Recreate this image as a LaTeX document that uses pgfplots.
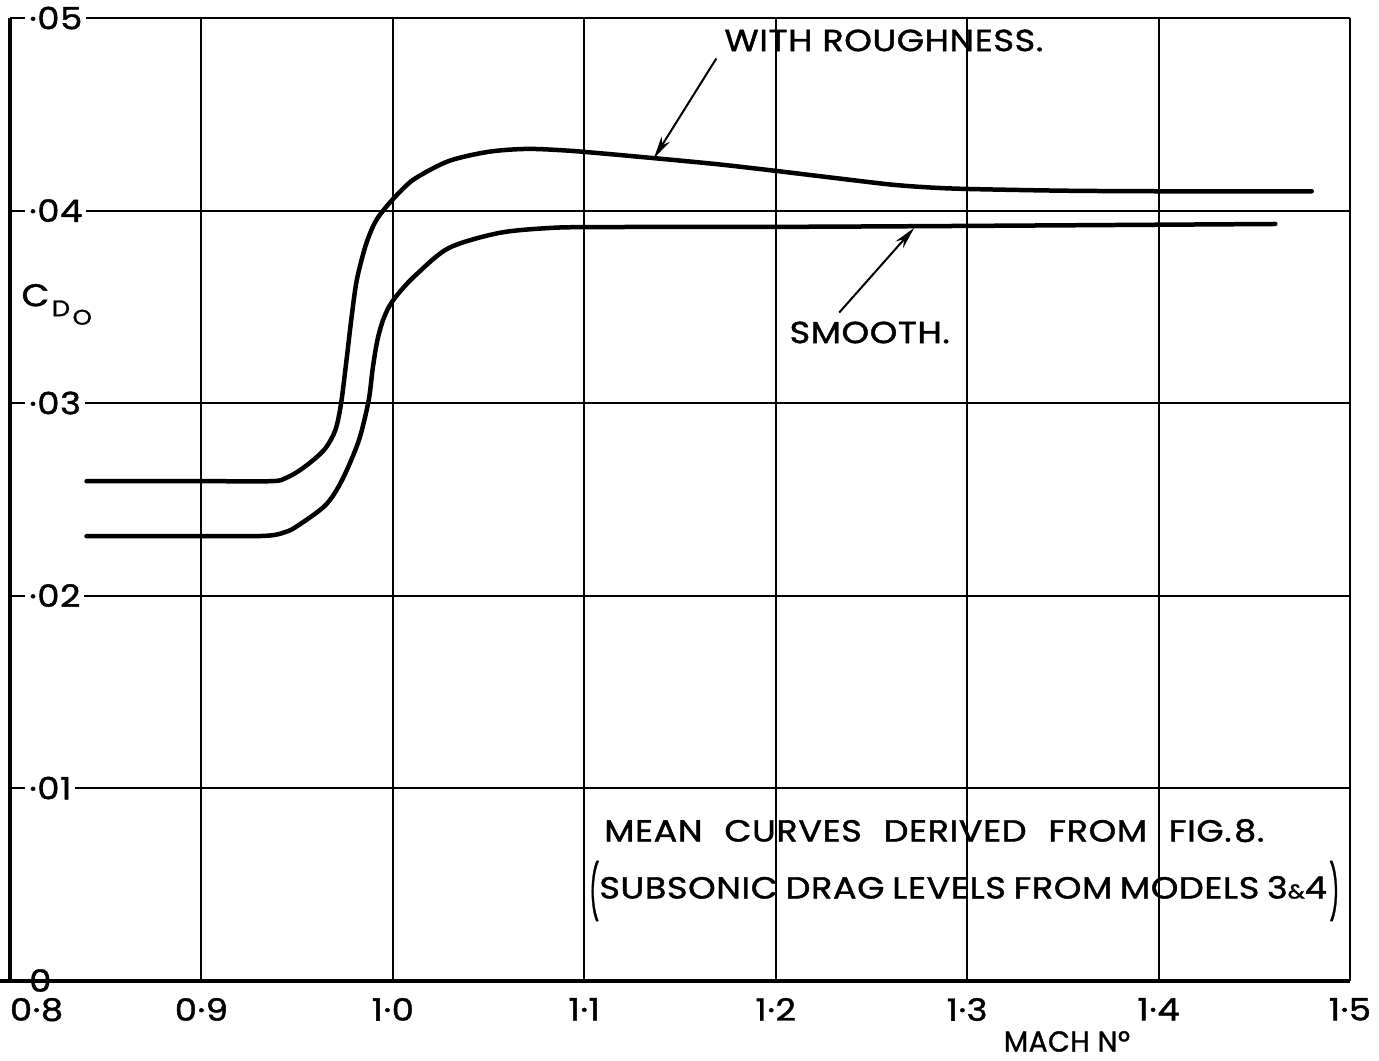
\documentclass[border=0pt]{standalone}
\usepackage{fontspec}
\setmainfont{Poppins}
\usepackage{graphicx}
\usepackage{pgfplots}
\pgfplotsset{compat=1.18}
\usetikzlibrary{arrows.meta}
\newfontfamily\lett[FakeStretch=1.15, FakeBold=1.4, LetterSpace=2]{Poppins}
\newfontfamily\lettT[FakeStretch=1.15, FakeBold=1.4, LetterSpace=2]{Poppins}

\pgfplotstableread{
x y
0.8400 0.02594
0.9000 0.02594
0.9366 0.02594
0.9440 0.02610
0.9507 0.02646
0.9580 0.02700
0.9648 0.02765
0.9700 0.02860
0.9730 0.03000
0.9760 0.03240
0.9785 0.03450
0.9812 0.03640
0.9857 0.03815
0.9905 0.03935
0.9962 0.04015
1.0040 0.04100
1.0119 0.04168
1.0292 0.04257
1.0500 0.04305
1.0700 0.04320
1.0900 0.04312
1.1076 0.04298
1.1364 0.04272
1.1700 0.04240
1.2008 0.04205
1.2300 0.04170
1.2600 0.04135
1.2800 0.04120
1.3000 0.04112
1.3500 0.04103
1.4000 0.04100
1.4800 0.04100
}\rough

\pgfplotstableread{
x y
0.8400 0.02308
0.9000 0.02308
0.9334 0.02310
0.9440 0.02330
0.9507 0.02365
0.9648 0.02469
0.9732 0.02594
0.9821 0.02801
0.9873 0.03010
0.9895 0.03180
0.9918 0.03320
0.9945 0.03420
0.9980 0.03500
1.0030 0.03570
1.0119 0.03664
1.0292 0.03805
1.0553 0.03883
1.0815 0.03909
1.1076 0.03914
1.2000 0.03915
1.3000 0.03920
1.4610 0.03930
}\smooth

\begin{document}
\begin{tikzpicture}
\useasboundingbox (-4pt,-31.8pt) rectangle (547.6pt,392.2pt);
\begin{axis}[
  at={(0,0)}, anchor=south west,
  scale only axis, width=536pt, height=385pt,
  xmin=0.8, xmax=1.5, ymin=0, ymax=0.05,
  xtick={0.8,0.9,1.0,1.1,1.2,1.3,1.4,1.5},
  xticklabels={\makebox[0pt][l]{0·8},0·9,1·0,1·1,1·2,1·3,1·4,1·5},
  ytick={0.01,0.02,0.03,0.04,0.05},
  yticklabels={·01,·02,·03,·04,·05},
  extra y ticks={0},
  extra y tick labels={\raisebox{-2pt}{0}},
  extra y tick style={grid=none},
  scaled y ticks=false,
  grid=major,
  major grid style={line width=0.8pt, black},
  major tick length=0pt,
  axis line style={draw=none},
  xticklabel style={font=\lettT\fontsize{12.3}{12.3}\selectfont, yshift=-3.5pt},
  yticklabel style={anchor=west, xshift=6pt, fill=white, inner sep=1.5pt, font=\lettT\fontsize{12.3}{12.3}\selectfont},
  clip=false,
]
\draw[line width=1.6pt] (rel axis cs:0,0) -- ++(5pt,0);
\draw[line width=1.6pt] (rel axis cs:0,0) ++(19.5pt,0) -- (rel axis cs:1,0);
\draw[line width=1.6pt] (rel axis cs:0,0) -- (rel axis cs:0,1);

\addplot[black, line width=1.8pt, line cap=round, smooth, tension=0.5] table[x=x,y=y] {\rough};
\addplot[black, line width=1.8pt, line cap=round, smooth, tension=0.5] table[x=x,y=y] {\smooth};

\node[anchor=base west, inner sep=0pt, font=\lett\fontsize{12.2}{12.2}\selectfont] at (axis cs:1.1730,0.04828) {WITH ROUGHNESS.};
\draw[line width=0.8pt, -{Stealth[length=9pt,width=4pt]}] (axis cs:1.1690,0.04790) -- (axis cs:1.1364,0.04272);

\node[anchor=base west, inner sep=0pt, font=\lett\fontsize{12.2}{12.2}\selectfont] at (axis cs:1.2070,0.03311) {SMOOTH.};
\draw[line width=0.8pt, -{Stealth[length=9pt,width=4pt]}] (axis cs:1.2332,0.03470) -- (axis cs:1.2724,0.03910);

\node[anchor=base west, inner sep=0pt, font=\lett\fontsize{12.2}{12.2}\selectfont] at (axis cs:1.1102,0.00722) {\makebox[264pt][s]{MEAN CURVES DERIVED FROM FIG.\kern1pt 8.}};
\node[anchor=base west, inner sep=0pt, font=\lett\fontsize{12.2}{12.2}\selectfont] at (axis cs:1.1024,0.00426) {\raisebox{-9pt}{\resizebox{4pt}{24pt}{\raisebox{\depth}{(}}}\makebox[291pt][s]{SUBSONIC DRAG LEVELS FROM MODELS 3{\fontsize{8}{8}\selectfont\&}4}\kern1pt\raisebox{-9pt}{\resizebox{4pt}{24pt}{\raisebox{\depth}{)}}}};

\node[anchor=base west, inner sep=0pt, font=\lettT] at (axis cs:0.8058,0.03503) {\fontsize{12.5}{12.5}\selectfont C\kern1pt\raisebox{-4pt}{\fontsize{9}{9}\selectfont D\kern1pt\raisebox{-3.4pt}{\fontsize{8.5}{8.5}\selectfont O}}};

\node[anchor=base west, inner sep=0pt, font=\lettT\fontsize{11.5}{11.5}\selectfont] at (axis cs:1.3190,-0.00369) {\scalebox{0.85}[1]{MACH Nº}};
\end{axis}
\end{tikzpicture}
\end{document}
